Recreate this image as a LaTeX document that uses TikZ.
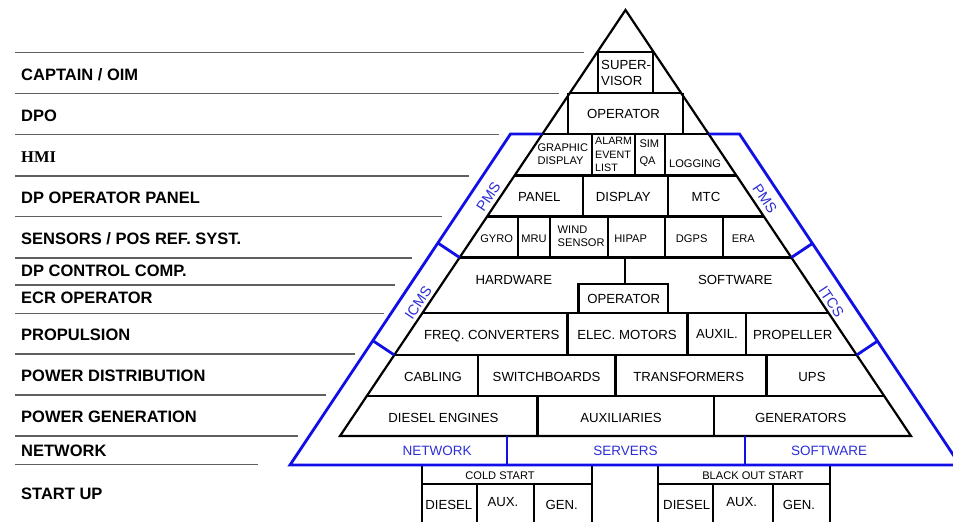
\documentclass[tikz,border=0pt]{standalone}
\usepackage{fontspec}
\setmainfont{Liberation Sans}
\newfontfamily\timesf{Liberation Serif}
\usetikzlibrary{calc}
\definecolor{bl}{RGB}{15,15,230}
\definecolor{bltext}{RGB}{45,45,215}
\definecolor{gr}{RGB}{95,95,95}
\begin{document}
\begin{tikzpicture}[x=1pt,y=-1pt,
  pyr/.style={line width=2.2pt, black},
  blu/.style={line width=2.8pt, color=bl},
  gry/.style={line width=1.1pt, color=gr},
  lab/.style={anchor=west, inner sep=0pt, text height=11.8pt, text depth=0pt, font=\fontsize{16.5}{19}\selectfont\bfseries},
  tb/.style={inner sep=0pt, text height=9.5pt, text depth=0pt, font=\fontsize{13.2}{16}\selectfont},
  tbl/.style={tb, anchor=west},
  ts/.style={inner sep=0pt, text height=8pt, text depth=0pt, font=\fontsize{11.1}{13}\selectfont},
  tsl/.style={ts, anchor=west},
  tss/.style={inner sep=0pt, anchor=west, text height=7.7pt, text depth=0pt, font=\fontsize{10.7}{13}\selectfont},
  bt/.style={inner sep=0pt, text height=9.7pt, text depth=0pt, text=bltext, font=\fontsize{13.5}{16}\selectfont},
  btr/.style={bt, text height=10.4pt, font=\fontsize{14.5}{16}\selectfont},
]
\useasboundingbox (0,0) rectangle (953,522);
\clip (0,0) rectangle (953,522);

% ---------- left gray rules and labels ----------
\foreach \yy/\xe in {52.3/583.5, 93.3/558.5, 134.5/499, 176/469, 216.7/441.5, 258/412, 285/395, 313.3/384, 354/355, 395/326, 436/297.5, 464.3/258}
  \draw[gry] (15.4,\yy) -- (\xe,\yy);

\node[lab] (l1) at (21,74.3) {CAPTAIN / OIM};
\node[lab] (l2) at (21,115.7) {DPO};
\node[lab, font=\fontsize{16.5}{19}\selectfont\timesf\bfseries, text height=10.9pt] (l3) at (21,156.7) {HMI};
\node[lab] (l4) at (21,197.3) {DP OPERATOR PANEL};
\node[lab] (l5) at (21,239) {SENSORS / POS REF. SYST.};
\node[lab] (l6) at (21,270.7) {DP CONTROL COMP.};
\node[lab] (l7) at (21,297.3) {ECR OPERATOR};
\node[lab] (l8) at (21,335) {PROPULSION};
\node[lab] (l9) at (21,376) {POWER DISTRIBUTION};
\node[lab] (l10) at (21,416.7) {POWER GENERATION};
\node[lab] (l11) at (21,451) {NETWORK};
\node[lab] (l12) at (21,493.3) {START UP};

% ---------- black pyramid ----------
\coordinate (A) at (625.5,10);
\coordinate (BL) at (340,436);
\coordinate (BR) at (911,436);
\draw[pyr, line join=miter] (BL) -- (A) -- (BR) -- cycle;
\foreach \yy in {52,93,134,175.5,216.5,257.5,313.3,355,396} {
  \pgfmathsetmacro\ft{(\yy-10)/426}
  \draw[pyr] ($(A)!\ft!(BL)$) -- ($(A)!\ft!(BR)$);
}
% walls of the top boxes
\draw[pyr] (597.7,52) -- (597.7,93) (653,52) -- (653,93);
\draw[pyr] (568,93) -- (568,134) (683,93) -- (683,134);
% HMI row
\foreach \xx in {592,635,665} \draw[pyr] (\xx,134) -- (\xx,175.5);
% panel row
\foreach \xx in {582.7,668} \draw[pyr] (\xx,175.5) -- (\xx,216.5);
% sensors row
\foreach \xx in {518.3,550,608.3,665,723.3} \draw[pyr] (\xx,216.5) -- (\xx,257.5);
% hardware / software row
\draw[pyr] (625,257.5) -- (625,284.3);
\draw[pyr] (578.5,313.3) |- (668,284.3) -- (668,313.3);
% propulsion row
\foreach \xx in {567.5,687.5,746} \draw[pyr] (\xx,313.3) -- (\xx,355);
% power distribution row
\foreach \xx in {478.3,615.5,766.5} \draw[pyr] (\xx,355) -- (\xx,396);
% power generation row
\foreach \xx in {537.5,714.3} \draw[pyr] (\xx,396) -- (\xx,436);

% ---------- start-up boxes ----------
\draw[pyr] (421.7,465) -- (421.7,530) (592.3,465) -- (592.3,530) (421.7,484) -- (592.3,484)
           (476.7,484) -- (476.7,530) (534,484) -- (534,530);
\draw[pyr] (658.3,465) -- (658.3,530) (830,465) -- (830,530) (658.3,484) -- (830,484)
           (713.3,484) -- (713.3,530) (772.7,484) -- (772.7,530);

% ---------- blue frame ----------
\coordinate (BT1) at (510.5,134);
\coordinate (BB1) at (290,465);
\coordinate (BT2) at (739.5,134);
\coordinate (BB2) at (960,465);
\draw[blu, line join=miter] ($(A)!0.29108!(BL)$) -- (BT1) -- (BB1) -- (BB2) -- (BT2) -- ($(A)!0.29108!(BR)$);
\draw[blu] (507,436) -- (507,465) (745,436) -- (745,465);
\coordinate (k1) at ($(A)!0.58099!(BL)$);
\coordinate (k2) at ($(A)!0.80986!(BL)$);
\coordinate (k3) at ($(A)!0.58099!(BR)$);
\coordinate (k4) at ($(A)!0.80986!(BR)$);
\draw[blu] (k1) -- ($(BT1)!(k1)!(BB1)$);
\draw[blu] (k2) -- ($(BT1)!(k2)!(BB1)$);
\draw[blu] (k3) -- ($(BT2)!(k3)!(BB2)$);
\draw[blu] (k4) -- ($(BT2)!(k4)!(BB2)$);

\node[btr, rotate=56.3] (pmsL) at (488.3,196.7) {PMS};
\node[btr, rotate=56.3] (icms) at (418,303) {ICMS};
\node[btr, rotate=-56.3] (pmsR) at (765,198.3) {PMS};
\node[btr, rotate=-56.3] (itcs) at (831.7,301.7) {ITCS};
\node[bt] (nw) at (437,451) {NETWORK};
\node[bt] (sv) at (625.5,451) {SERVERS};
\node[bt] (sw) at (829,451) {SOFTWARE};

% ---------- pyramid texts ----------
\node[tbl] (sup1) at (601,64.3) {SUPER-};
\node[tbl] (sup2) at (601,81) {VISOR};
\node[tb] (op1) at (623.5,114) {OPERATOR};

\node[tsl] (gr1) at (537.3,147.7) {GRAPHIC};
\node[tsl] (gr2) at (537.3,160) {DISPLAY};
\node[tss] (al1) at (595,141) {ALARM};
\node[tss] (al2) at (595,155) {EVENT};
\node[tss] (al3) at (595,167.7) {LIST};
\node[tsl] (si1) at (639.3,143.7) {SIM};
\node[tsl] (si2) at (639.3,160) {QA};
\node[ts] (log) at (695,163.3) {LOGGING};

\node[tb] (pan) at (539.3,196.7) {PANEL};
\node[tb] (dis) at (623.3,197) {DISPLAY};
\node[tb] (mtc) at (706,197) {MTC};

\node[ts] (gyr) at (496.7,238.3) {GYRO};
\node[ts] (mru) at (534,238) {MRU};
\node[tsl] (wi1) at (557.5,229) {WIND};
\node[tsl] (wi2) at (557.5,242.3) {SENSOR};
\node[ts] (hip) at (630.7,238) {HIPAP};
\node[ts] (dgp) at (691.7,238) {DGPS};
\node[ts] (era) at (743.3,238) {ERA};

\node[tb] (hw) at (513.8,279.3) {HARDWARE};
\node[tb] (sft) at (735.3,280) {SOFTWARE};
\node[tb] (op2) at (623.7,299) {OPERATOR};

\node[tb] (fc) at (491.8,335) {FREQ. CONVERTERS};
\node[tb] (em) at (627,335) {ELEC. MOTORS};
\node[tb] (aux) at (717,334) {AUXIL.};
\node[tb] (prp) at (792.7,335) {PROPELLER};

\node[tb] (cab) at (433,376.7) {CABLING};
\node[tb] (swb) at (546.6,376.7) {SWITCHBOARDS};
\node[tb] (trf) at (688.7,376.7) {TRANSFORMERS};
\node[tb] (ups) at (812,376.7) {UPS};

\node[tb] (de) at (443.4,417.7) {DIESEL ENGINES};
\node[tb] (auxs) at (621,417.7) {AUXILIARIES};
\node[tb] (gens) at (800.7,417.7) {GENERATORS};

\node[ts] (cs) at (500,475) {COLD START};
\node[ts] (bos) at (753,475) {BLACK OUT START};
\node[tb] (d1) at (448.8,505) {DIESEL};
\node[tb] (a1) at (503,501.7) {AUX.};
\node[tb] (g1) at (561.7,505) {GEN.};
\node[tb] (d2) at (686.7,505) {DIESEL};
\node[tb] (a2) at (741.7,501.7) {AUX.};
\node[tb] (g2) at (799,505) {GEN.};
\end{tikzpicture}
\end{document}
